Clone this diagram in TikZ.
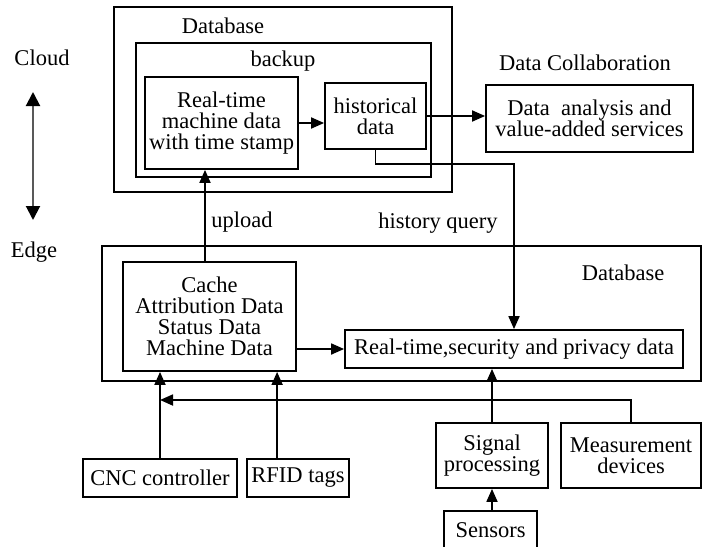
\documentclass[tikz,border=0pt]{standalone}
\usepackage{fontspec}
\setmainfont{Liberation Serif}
\usetikzlibrary{arrows.meta}

\begin{document}
\begin{tikzpicture}[x=1pt,y=-1pt,
  box/.style={draw,line width=1.8pt,inner sep=0pt,align=center,font=\fontsize{22.5}{21}\selectfont},
  lbl/.style={inner sep=0pt,font=\fontsize{22.5}{21}\selectfont},
  link/.style={line width=1.8pt,-{Triangle[length=13pt,width=11pt]}},
  wire/.style={line width=1.8pt}]
  \useasboundingbox (0,0) rectangle (703,546);
  \clip (0,0) rectangle (703,546);

  % cloud side
  \node[lbl] (cloud) at (42,58) {Cloud};
  \node[lbl] (edge) at (34,252) {Edge};
  \coordinate (updown top) at (33,92);
  \coordinate (updown bottom) at (33,220);
  \draw[line width=2pt,black!65,{Triangle[length=14pt,width=14pt,color=black]}-{Triangle[length=14pt,width=14pt,color=black]}] (updown top) -- (updown bottom);

  \node[box,minimum width=338pt,minimum height=185pt] (clouddb) at (283,99.5) {};
  \node[lbl] (clouddb label) at (223,26) {Database};
  \node[box,minimum width=295pt,minimum height=134pt] (backup) at (283.5,110) {};
  \node[lbl] (backup label) at (283,61) {backup};
  \node[box,minimum width=153pt,minimum height=92pt] (machine) at (221.5,123) {Real-time\\machine data\\with time stamp};
  \node[box,minimum width=101pt,minimum height=66pt] (hist) at (375.5,116) {historical\\data};

  \node[lbl] (collab) at (585,63) {Data Collaboration};
  \node[box,minimum width=207pt,minimum height=67pt] (services) at (589.5,118.5) {Data~~analysis and\\value-added services};

  \node[lbl] (upload) at (242,222) {upload};
  \node[lbl] (query) at (438,223) {history query};

  % edge side
  \node[box,minimum width=599pt,minimum height=135pt] (edgedb) at (401.5,313.5) {};
  \node[lbl] (edgedb label) at (623,273) {Database};
  \node[box,minimum width=173pt,minimum height=109pt] (cache) at (209.5,316.5) {Cache\\Attribution Data\\Status Data\\Machine Data};
  \node[box,minimum width=338pt,minimum height=38pt] (secure) at (514,349) {Real-time,security and privacy data};

  \node[box,minimum width=154pt,minimum height=38pt] (cnc) at (160,478) {CNC controller};
  \node[box,minimum width=102pt,minimum height=38pt] (rfid) at (298,478) {RFID tags};
  \node[box,minimum width=112pt,minimum height=65pt] (signal) at (492,455.5) {Signal\\processing};
  \node[box,minimum width=140pt,minimum height=65pt] (measure) at (631,455.5) {Measurement\\devices};
  \node[box,minimum width=93pt,minimum height=38pt] (sensors) at (490.5,530) {Sensors};
  \coordinate (bus end) at (160,400);

  \draw[link] (machine.east) -- (machine.east -| hist.west);
  \draw[link] (hist.east) -- (hist.east -| services.west);
  \draw[link] (hist.south) -- ++(0,14) -| (secure.north);
  \draw[link] ([xshift=-4.5pt]cache.north) -- ([xshift=-4.5pt]cache.north |- machine.south);
  \draw[link] (cache.east |- secure.west) -- (secure.west);
  \draw[link] (cnc.north) -- (cnc.north |- cache.south);
  \draw[link] ([xshift=31pt]rfid.north west) -- ([xshift=31pt]rfid.north west |- cache.south);
  \draw[link] (signal.north) -- (signal.north |- secure.south);
  \draw[link] (signal.south |- sensors.north) -- (signal.south);
  \draw[link] (measure.north) |- (bus end);
\end{tikzpicture}
\end{document}
